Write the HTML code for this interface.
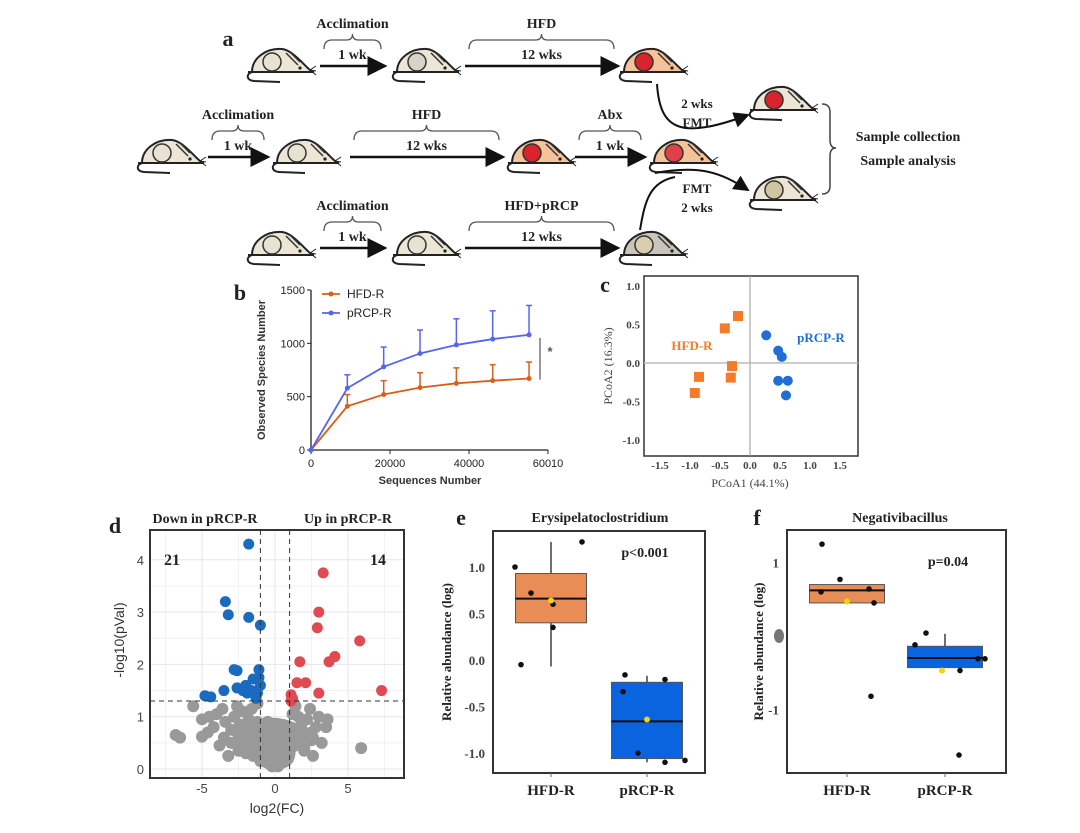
<!DOCTYPE html>
<html><head><meta charset="utf-8"><style>
html,body{margin:0;padding:0;background:#fff;}
svg{display:block;font-family:"Liberation Serif",serif;}
</style></head><body>
<svg id="fig" width="1080" height="833" viewBox="0 0 1080 833" xmlns="http://www.w3.org/2000/svg">
<defs><marker id="ar" markerWidth="8" markerHeight="8" refX="7" refY="4" orient="auto"><path d="M0,0 L8,4 L0,8 z" fill="#111"/></marker></defs>
<g id="pa"></g>
<g id="pb"></g>
<g id="pc"></g>
<g id="pd"></g>
<g id="pe"></g>
<g id="pf"></g>
</svg>
<script>
// ---- panel b data ----
const bX=[0,9200,18400,27600,36800,46000,55200];
const bHFD=[0,410,520,585,625,650,670];
const bHFDerr=[0,520,650,725,770,800,825];
const bRCP=[0,580,780,905,985,1040,1080];
const bRCPerr=[0,705,965,1125,1230,1305,1355];
const bXticks=["0","20000","40000","60010"];
const bYticks=["0","500","1000","1500"];
// ---- panel c data ----
const cHFDx=[-0.2,-0.42,-0.3,-0.32,-0.85,-0.92];
const cHFDy=[0.61,0.45,-0.04,-0.19,-0.18,-0.39];
const cRCPx=[0.27,0.47,0.53,0.47,0.63,0.6];
const cRCPy=[0.36,0.16,0.08,-0.23,-0.23,-0.42];
const cXticks=[-1.5,-1.0,-0.5,0.0,0.5,1.0,1.5];
const cYticks=[1.0,0.5,0.0,-0.5,-1.0];
// ---- panel d data ----
const dDownX=[-1.8,-3.4,-3.2,-1.8,-1.0,-2.8,-2.6,-1.1,-1.1,-1.5,-2.0,-2.6,-2.2,-3.5,-4.8,-4.4,-1.2,-1.9,-1.3,-1.0,-1.6];
const dDownY=[4.3,3.2,2.95,2.9,2.75,1.9,1.88,1.9,1.75,1.72,1.6,1.55,1.5,1.5,1.4,1.38,1.45,1.45,1.35,1.6,1.5];
const dUpX=[3.3,3.0,2.9,5.8,4.1,3.7,1.7,1.5,2.1,3.0,7.3,1.1,1.2,1.1];
const dUpY=[3.75,3.0,2.7,2.45,2.15,2.05,2.05,1.65,1.65,1.45,1.5,1.42,1.35,1.3];
const dNsX=[-6.8,-6.5,-5.6,-5.0,-5.0,-4.6,-4.2,-3.8,-3.6,-3.4,-3.2,-3.0,-2.8,-2.6,-2.4,-2.2,-2.0,-1.8,-1.6,-1.4,-1.2,-1.0,-0.8,-0.6,-0.4,-0.2,0,0.2,0.4,0.6,0.8,1.0,1.2,1.4,1.6,1.8,2.0,2.2,2.4,2.6,2.8,3.0,3.2,3.6,2.6,5.9,-3.0,-2.5,-2.0,-1.5,-1.0,-0.5,0,0.5,1.0,1.5,2.0,2.5,-3.5,-2.5,-1.5,-0.5,0.5,1.5,2.5,-2,-1,0,1,2,-0.5,0.3,-4.5,-4.0,-1.2,1.3,3.5,-0.8,0.8,0];
const dNsY=[0.65,0.6,1.2,0.95,0.62,0.7,0.8,0.45,1.15,0.9,0.25,0.75,1.0,1.2,0.85,1.1,0.55,0.95,1.15,0.7,0.9,0.5,0.35,0.2,0.1,0.05,0.1,0.05,0.15,0.3,0.55,0.8,1.05,1.2,1.0,0.85,0.7,0.95,1.15,0.6,0.8,1.0,0.5,0.95,0.25,0.4,0.5,0.35,0.3,0.25,0.15,0.4,0.3,0.45,0.3,0.5,0.35,0.55,0.6,0.65,0.45,0.6,0.7,0.6,0.7,0.8,0.75,0.55,0.65,0.4,0.9,0.85,1.0,1.05,1.25,1.25,0.8,0.15,0.2,0.7];
// ---- panel e data ----
const eGroups=["HFD-R","pRCP-R"];
const eQ1=[0.4,-1.06],eQ3=[0.93,-0.24],eMed=[0.66,-0.66],eWlo=[-0.07,-1.1],eWhi=[1.27,-0.17],eMean=[0.64,-0.64];
const ePtsHFD=[1.0,0.72,0.6,0.35,-0.05,1.27];
const ePtsRCP=[-0.16,-0.34,-1.0,-1.1,-1.08,-0.21];
const eJit=[-36,-20,2,2,-30,31];
const eJitR=[-22,-24,-9,18,38,18];
// ---- panel f data ----
const fQ1=[0.45,-0.43],fQ3=[0.7,-0.14],fMed=[0.62,-0.3],fWhi=[0.7,0.03],fMean=[0.47,-0.47];
const fPtsHFD=[1.25,0.77,0.6,0.64,0.45,-0.82];
const fPtsRCP=[-0.12,0.04,-0.47,-0.31,-0.31,-1.62];
const fJit=[-25,-7,-26,22,27,24];
const fJitR=[-30,-19,15,33,40,14];

const NS="http://www.w3.org/2000/svg";
function el(p,tag,a,txt){const e=document.createElementNS(NS,tag);for(const k in a)e.setAttribute(k,a[k]);if(txt!==undefined)e.textContent=txt;p.appendChild(e);return e;}
function T(p,x,y,s,size,opt){opt=opt||{};const e=el(p,'text',Object.assign({x:x,y:y,'font-size':size,'text-anchor':opt.a||'middle',fill:opt.f||'#222','font-weight':opt.w||'bold','font-family':opt.ff||'"Liberation Serif",serif'},opt.tr?{transform:opt.tr}:{}),s);return e;}

// ===== Panel A =====
const pa=document.getElementById('pa');
function mouse(x,y,fill,gut,name){
 const g=el(pa,'g',{transform:'translate('+x+','+y+')'});
 
 
 el(g,'path',{d:'M2,0 C2,-14 16,-24 32,-23 C42,-22 52,-9 60,-2 L62,0 Z',fill:fill,stroke:'#222','stroke-width':2});
 el(g,'path',{d:'M-2,0 L64,0 M2,0 C-4,2 -4,8 4,9 L30,10',fill:'none',stroke:'#222','stroke-width':2});
 el(g,'circle',{cx:22,cy:-10,r:9,fill:gut,stroke:'#333','stroke-width':1.5});
 el(g,'path',{d:'M36,-19 L48,-7 M40,-20 L50,-10',stroke:'#333','stroke-width':1.5});
 el(g,'circle',{cx:50,cy:-4,r:1.6,fill:'#222'});
 el(g,'path',{d:'M60,-2 L66,-6 M60,-2 L66,-1 M60,-2 L66,3',stroke:'#222','stroke-width':1});
}
const beige='#ede6d6',orng='#f4c39a',gry='#c9c5bb';
mouse(250,72,beige,'#e8e2d2','mouse-r1-1');mouse(395,72,beige,'#d8d3c6','mouse-r1-2');mouse(622,72,orng,'#d8242a','mouse-r1-3');
mouse(140,163,beige,'#e8e2d2','mouse-r2-1');mouse(275,163,beige,'#e8e2d2','mouse-r2-2');mouse(510,163,orng,'#d8242a','mouse-r2-3');mouse(652,163,orng,'#e0404a','mouse-r2-4');
mouse(250,255,beige,'#e8e2d2','mouse-r3-1');mouse(395,255,beige,'#e8e2d2','mouse-r3-2');mouse(622,255,gry,'#d9cfb0','mouse-r3-3');
mouse(752,110,beige,'#d8242a','mouse-fmt-hfd');mouse(752,200,beige,'#cfc5a0','mouse-fmt-prcp');
T(pa,228,46,'a',22,{});
function step(x1,x2,y,top,bot,name){
 const a=el(pa,'line',{x1:x1,y1:y,x2:x2,y2:y,stroke:'#111','stroke-width':2.5,'marker-end':'url(#ar)'});
 
 const m=(x1+x2)/2,w=(x2-x1)/2-4,by=y-26;
 el(pa,'path',{d:`M${m-w},${by+9} Q${m-w},${by} ${m-w+8},${by} L${m-6},${by} Q${m},${by} ${m},${by-6} Q${m},${by} ${m+6},${by} L${m+w-8},${by} Q${m+w},${by} ${m+w},${by+9}`,fill:'none',stroke:'#555','stroke-width':1.3});
 T(pa,m,by-12,top,14);T(pa,m,y-7,bot,14);
}
step(320,385,66,'Acclimation','1 wk','r1-accl');step(465,618,66,'HFD','12 wks','r1-hfd');
step(208,268,157,'Acclimation','1 wk','r2-accl');step(350,503,157,'HFD','12 wks','r2-hfd');step(575,645,157,'Abx','1 wk','r2-abx');
step(320,385,248,'Acclimation','1 wk','r3-accl');step(465,618,248,'HFD+pRCP','12 wks','r3-hfdprcp');
el(pa,'path',{d:'M657,84 C660,130 680,140 748,115',fill:'none',stroke:'#111','stroke-width':2,'marker-end':'url(#ar)'});
el(pa,'path',{d:'M655,173 C700,165 720,172 748,190',fill:'none',stroke:'#111','stroke-width':2,'marker-end':'url(#ar)'});
el(pa,'path',{d:'M640,230 C645,200 650,182 675,177',fill:'none',stroke:'#111','stroke-width':2});
T(pa,697,108,'2 wks',13);T(pa,697,127,'FMT',13);T(pa,697,193,'FMT',13);T(pa,697,212,'2 wks',13);
el(pa,'path',{d:'M822,104 Q830,104 830,112 L830,140 Q830,148 836,148 Q830,148 830,156 L830,186 Q830,194 822,194',fill:'none',stroke:'#444','stroke-width':1.5});
T(pa,908,141,'Sample collection',14);T(pa,908,165,'Sample analysis',14);

// ===== Panel B =====
const pb=document.getElementById('pb');
const bx=v=>311+v/60000*237, by=v=>450-v/1500*160;
const sf='"Liberation Sans",sans-serif';
T(pb,240,300,'b',22,{});
el(pb,'line',{x1:311,y1:290,x2:311,y2:450,stroke:'#222','stroke-width':1.3});
el(pb,'line',{x1:311,y1:450,x2:548,y2:450,stroke:'#222','stroke-width':1.3});
bYticks.forEach((t,i)=>{const y=by(i*500);el(pb,'line',{x1:307,y1:y,x2:311,y2:y,stroke:'#222'});T(pb,305,y+4,t,11,{a:'end',ff:sf,w:'normal'});});
bXticks.forEach((t,i)=>{const x=bx(i*20000);el(pb,'line',{x1:x,y1:450,x2:x,y2:454,stroke:'#222'});T(pb,x,467,t,11,{ff:sf,w:'normal'});});
T(pb,430,484,'Sequences Number',11,{ff:sf,w:'bold',f:'#333'});
T(pb,265,370,'Observed Species Number',11,{ff:sf,w:'bold',f:'#333',tr:'rotate(-90 265 370)'});
function series(vals,errs,col,name){
 for(let i=1;i<bX.length;i++){const x=bx(bX[i]);el(pb,'line',{x1:x,y1:by(vals[i]),x2:x,y2:by(errs[i]),stroke:col,'stroke-width':1.5});el(pb,'line',{x1:x-3,y1:by(errs[i]),x2:x+3,y2:by(errs[i]),stroke:col,'stroke-width':1.5});}
 const l=el(pb,'polyline',{points:bX.map((v,i)=>bx(v)+','+by(vals[i])).join(' '),fill:'none',stroke:col,'stroke-width':1.8});
 
 bX.forEach((v,i)=>el(pb,'circle',{cx:bx(v),cy:by(vals[i]),r:2.5,fill:col}));
}
series(bHFD,bHFDerr,'#d4601c','hfd-r-line');series(bRCP,bRCPerr,'#5566ee','prcp-r-line');
el(pb,'line',{x1:540,y1:by(1050),x2:540,y2:by(660),stroke:'#333','stroke-width':1});
T(pb,550,356,'*',13,{ff:sf,f:'#555'});
el(pb,'line',{x1:322,y1:294,x2:340,y2:294,stroke:'#d4601c','stroke-width':1.8});el(pb,'circle',{cx:331,cy:294,r:2.5,fill:'#d4601c'});
el(pb,'line',{x1:322,y1:313,x2:340,y2:313,stroke:'#5566ee','stroke-width':1.8});el(pb,'circle',{cx:331,cy:313,r:2.5,fill:'#5566ee'});
T(pb,347,298,'HFD-R',12,{a:'start',ff:sf,w:'normal'});T(pb,347,317,'pRCP-R',12,{a:'start',ff:sf,w:'normal'});

// ===== Panel C =====
const pc=document.getElementById('pc');
const cx=v=>750+v*60, cy=v=>363-v*77;
T(pc,605,292,'c',22,{});
el(pc,'rect',{x:644,y:276,width:214,height:180,fill:'none',stroke:'#333','stroke-width':1.5});
el(pc,'line',{x1:cx(0),y1:276,x2:cx(0),y2:456,stroke:'#999','stroke-width':1});
el(pc,'line',{x1:644,y1:cy(0),x2:858,y2:cy(0),stroke:'#bbb','stroke-width':1.5});
cYticks.forEach(v=>T(pc,640,cy(v)+4,v.toFixed(1),11,{a:'end',f:'#444'}));
cXticks.forEach(v=>T(pc,cx(v),469,v.toFixed(1),11,{f:'#444'}));
T(pc,750,487,'PCoA1 (44.1%)',12,{f:'#444',w:'normal'});
T(pc,612,366,'PCoA2 (16.3%)',12,{f:'#444',w:'normal',tr:'rotate(-90 612 366)'});
cHFDx.forEach((v,i)=>{const r=el(pc,'rect',{x:cx(v)-5,y:cy(cHFDy[i])-5,width:10,height:10,fill:'#f37b2a'});});
cRCPx.forEach((v,i)=>{const r=el(pc,'circle',{cx:cx(v),cy:cy(cRCPy[i]),r:5,fill:'#1f6fd6'});});
T(pc,692,350,'HFD-R',13,{f:'#f37b2a'});T(pc,821,342,'pRCP-R',13,{f:'#1f6fd6'});

// ===== Panel D =====
const pd=document.getElementById('pd');
const dx=v=>275+v*14.6, dy=v=>769-v*52.3;
T(pd,115,533,'d',22,{});
T(pd,205,523,'Down in pRCP-R',14,{});T(pd,348,523,'Up in pRCP-R',14,{});
el(pd,'rect',{x:150,y:530,width:254,height:248,fill:'#fff'});
[-7.5,-2.5,2.5,7.5].forEach(v=>el(pd,'line',{x1:dx(v),y1:530,x2:dx(v),y2:778,stroke:'#f2f2f2'}));
[-5,0,5].forEach(v=>el(pd,'line',{x1:dx(v),y1:530,x2:dx(v),y2:778,stroke:'#e6e6e6'}));
[0.5,1.5,2.5,3.5].forEach(v=>el(pd,'line',{x1:150,y1:dy(v),x2:404,y2:dy(v),stroke:'#f2f2f2'}));
[0,1,2,3,4].forEach(v=>{el(pd,'line',{x1:150,y1:dy(v),x2:404,y2:dy(v),stroke:'#e6e6e6'});T(pd,144,dy(v)+5,String(v),13,{a:'end',ff:sf,w:'normal',f:'#444'});});
[-5,0,5].forEach(v=>T(pd,dx(v),793,String(v),13,{ff:sf,w:'normal',f:'#444'}));
dNsX.forEach((v,i)=>el(pd,'circle',{cx:dx(v),cy:dy(dNsY[i]),r:6,fill:'#999'}));
el(pd,'ellipse',{cx:dx(-0.3),cy:dy(0.6),rx:36,ry:20,fill:'#999'});
el(pd,'ellipse',{cx:dx(0),cy:dy(0.25),rx:20,ry:14,fill:'#999'});
dDownX.forEach((v,i)=>{const c=el(pd,'circle',{cx:dx(v),cy:dy(dDownY[i]),r:5.5,fill:'#1a6bbf'});});
dUpX.forEach((v,i)=>{const c=el(pd,'circle',{cx:dx(v),cy:dy(dUpY[i]),r:5.5,fill:'#e04a52'});});
el(pd,'line',{x1:dx(-1),y1:530,x2:dx(-1),y2:778,stroke:'#333','stroke-dasharray':'5,4'});
el(pd,'line',{x1:dx(1),y1:530,x2:dx(1),y2:778,stroke:'#333','stroke-dasharray':'5,4'});
el(pd,'line',{x1:150,y1:dy(1.3),x2:404,y2:dy(1.3),stroke:'#333','stroke-dasharray':'5,4'});
el(pd,'rect',{x:150,y:530,width:254,height:248,fill:'none',stroke:'#333','stroke-width':2});
T(pd,172,565,'21',16,{});T(pd,378,565,'14',16,{});
T(pd,277,813,'log2(FC)',14,{ff:sf,w:'normal',f:'#333'});
el(pd,'text',{x:0,y:0,'font-size':14,'text-anchor':'middle','font-family':sf,fill:'#333',transform:'translate(124,640) rotate(-90)'},'-log10(pVal)');

// ===== Box panels =====
function boxPanel(g,o){
 const yv=v=>o.y0-v*o.k;
 T(g,o.lx,525,o.letter,22,{});
 T(g,o.tx,522,o.title,14,{});
 el(g,'rect',{x:o.L,y:o.Tp,width:o.R-o.L,height:o.B-o.Tp,fill:'#fff',stroke:'#333','stroke-width':2});
 o.yt.forEach((v,i)=>T(g,o.L-8,yv(v)+5,o.yl[i],13,{a:'end',f:'#444'}));
 ['HFD-R','pRCP-R'].forEach((n,i)=>{el(g,'line',{x1:o.cxs[i],y1:o.B,x2:o.cxs[i],y2:o.B+4,stroke:'#666'});T(g,o.cxs[i],o.B+22,n,15,{});});
 el(g,'text',{x:0,y:0,'font-size':13,'font-weight':'bold','text-anchor':'middle','font-family':'"Liberation Serif",serif',fill:'#222',transform:`translate(${o.ylx},${(o.Tp+o.B)/2}) rotate(-90)`},'Relative abundance (log)');
 T(g,o.px,o.py,o.p,14,{});
 const cols=['#e98d56','#0a64e0'];
 for(let i=0;i<2;i++){
  const c=o.cxs[i],w=o.bw;
  el(g,'line',{x1:c,y1:yv(o.whi[i]),x2:c,y2:yv(o.q3[i]),stroke:'#222','stroke-width':1.3});
  if(o.wlo)el(g,'line',{x1:c,y1:yv(o.q1[i]),x2:c,y2:yv(o.wlo[i]),stroke:'#222','stroke-width':1.3});
  const r=el(g,'rect',{x:c-w/2,y:yv(o.q3[i]),width:w,height:yv(o.q1[i])-yv(o.q3[i]),fill:cols[i],stroke:'#555','stroke-width':1});
  
  
  el(g,'line',{x1:c-w/2,y1:yv(o.med[i]),x2:c+w/2,y2:yv(o.med[i]),stroke:'#111','stroke-width':2});
 }
 o.ph.forEach((v,i)=>el(g,'circle',{cx:o.cxs[0]+o.jh[i],cy:yv(v),r:2.8,fill:'#111'}));
 o.pr.forEach((v,i)=>el(g,'circle',{cx:o.cxs[1]+o.jr[i],cy:yv(v),r:2.8,fill:'#111'}));
 o.mean.forEach((v,i)=>el(g,'circle',{cx:o.cxs[i]+(o.mo?o.mo[i]:0),cy:yv(v),r:3,fill:'#f5d20a'}));
}
boxPanel(document.getElementById('pe'),{letter:'e',lx:461,title:'Erysipelatoclostridium',tx:600,L:493,R:705,Tp:531,B:773,y0:660,k:93,
 yt:[1,0.5,0,-0.5,-1],yl:['1.0','0.5','0.0','-0.5','-1.0'],cxs:[551,647],bw:71,ylx:451,p:'p<0.001',px:645,py:557,
 q1:eQ1,q3:eQ3,med:eMed,wlo:eWlo,whi:eWhi,mean:eMean,ph:ePtsHFD,pr:ePtsRCP,jh:eJit,jr:eJitR});
boxPanel(document.getElementById('pf'),{letter:'f',lx:757,title:'Negativibacillus',tx:900,L:787,R:1006,Tp:530,B:773,y0:636,k:73.5,
 yt:[1,0,-1],yl:['1','','-1'],cxs:[847,945],bw:75,ylx:763,p:'p=0.04',px:948,py:566,
 q1:fQ1,q3:fQ3,med:fMed,whi:fWhi,mean:fMean,ph:fPtsHFD,pr:fPtsRCP,jh:fJit,jr:fJitR,mo:[0,-3]});
el(document.getElementById('pf'),'ellipse',{cx:779,cy:636,rx:5,ry:7,fill:'#777'});
</script>
</body></html>
